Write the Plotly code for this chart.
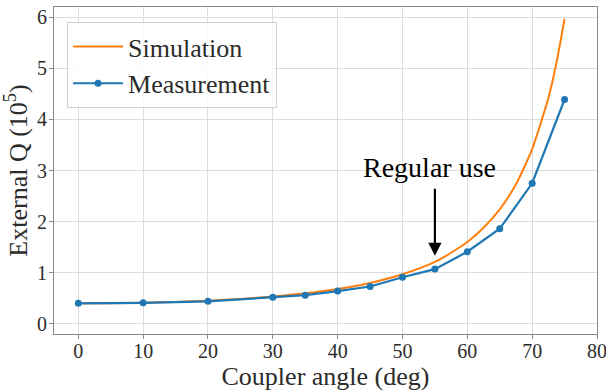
import plotly.graph_objects as go

# Simulation curve
sim_angle = [0, 5, 10, 15, 20, 25, 30, 35, 40, 45, 50, 55, 57.5, 60, 62.5, 65, 67.5, 70, 72.5, 73.75, 75]
sim_q = [0.40, 0.403, 0.412, 0.428, 0.453, 0.487, 0.533, 0.596, 0.681, 0.798, 0.968, 1.21, 1.39, 1.60, 1.88, 2.24, 2.73, 3.42, 4.42, 5.11, 5.97]

# Measurement points
meas_angle = [0, 10, 20, 30, 35, 40, 45, 50, 55, 60, 65, 70, 75]
meas_q = [0.40, 0.41, 0.44, 0.52, 0.56, 0.64, 0.73, 0.91, 1.07, 1.41, 1.86, 2.75, 4.39]

x_ticks = [0, 10, 20, 30, 40, 50, 60, 70, 80]
y_ticks = [0, 1, 2, 3, 4, 5, 6]

ORANGE = "#ff7f0e"
BLUE = "#1f77b4"
FONT = "Liberation Serif"
TXT = "#2b2b2b"

fig = go.Figure()
fig.add_trace(go.Scatter(x=sim_angle, y=sim_q, mode="lines", name="Simulation",
                         line=dict(color=ORANGE, width=2, shape="spline", smoothing=0.6)))
fig.add_trace(go.Scatter(x=meas_angle, y=meas_q, mode="lines+markers", name="Measurement",
                         line=dict(color=BLUE, width=2.2), marker=dict(size=7, color=BLUE)))

fig.add_annotation(x=55, y=1.33, ax=55, ay=2.67, xref="x", yref="y", axref="x", ayref="y",
                   text="", showarrow=True, arrowhead=2, arrowsize=1.2, arrowwidth=2.2,
                   arrowcolor="black")
fig.add_annotation(x=54.2, y=3.05, xref="x", yref="y", text="Regular use", showarrow=False,
                   font=dict(family=FONT, size=28, color="black"))

axis_common = dict(showline=True, linecolor="#888888", linewidth=1, mirror=True,
                   showgrid=True, gridcolor="#dcdcdc", gridwidth=1, zeroline=False,
                   ticks="outside", ticklen=4, tickcolor="#888888", automargin=False,
                   ticklabeloverflow="allow",
                   tickfont=dict(family=FONT, size=20, color=TXT))

fig.update_xaxes(range=[-3.75, 80], tickvals=x_ticks, ticklabelstandoff=-5,
                 title=dict(text="Coupler angle (deg)", font=dict(family=FONT, size=26, color=TXT), standoff=2),
                 **axis_common)
fig.update_yaxes(range=[-0.2, 6.2], tickvals=y_ticks, ticklabelstandoff=-2,
                 title=dict(text="External Q (10<sup>5</sup>)", font=dict(family=FONT, size=26, color=TXT), standoff=4),
                 **axis_common)

fig.update_layout(
    width=606, height=391,
    margin=dict(l=54, r=9, t=7, b=57),
    plot_bgcolor="white", paper_bgcolor="white",
    font=dict(family=FONT, color=TXT),
    legend=dict(x=0.024, y=0.954, xanchor="left", yanchor="top",
                bgcolor="rgba(255,255,255,0.85)", bordercolor="#d0d0d0", borderwidth=1,
                font=dict(family=FONT, size=26, color=TXT), itemwidth=50,
                tracegroupgap=0),
    showlegend=True,
)

fig.write_html("out.html", config={"displayModeBar": False},
               post_script="document.body.style.margin='0';document.body.style.overflow='hidden';")
